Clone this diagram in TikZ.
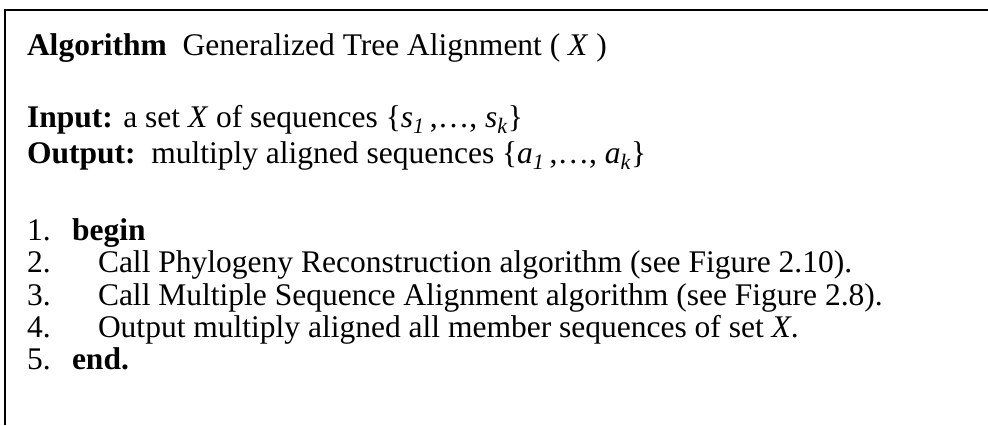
\documentclass[tikz,border=0pt]{standalone}
\usepackage{fontspec}
\setmainfont{Liberation Serif}
\begin{document}
\begin{tikzpicture}[x=1bp,y=-1bp,
  line/.style={anchor=base west,inner sep=0pt,outer sep=0pt,
    font=\fontsize{31.5bp}{36bp}\selectfont},
  frame/.style={line width=2bp,line cap=butt}]
\useasboundingbox (0,0) rectangle (988,425);
% open frame: top and left rules only
\draw[frame] (5,425) -- (5,10) -- (988,10);
% heading and interface
\node[line] (title) at (27,55) {\textbf{Algorithm}\ \ Generalized Tree Alignment ( \textit{X} )};
\node[line] (input) at (27,127) {\textbf{Input:} a set \textit{X} of sequences \{\textit{s}\textsubscript{\textit{1}}\,,\dots, \textit{s}\textsubscript{\textit{k}}\}};
\node[line] (output) at (27,163) {\textbf{Output:}\ \ multiply aligned sequences \{\textit{a}\textsubscript{\textit{1}}\,,\dots, \textit{a}\textsubscript{\textit{k}}\}};
% numbered steps
\node[line] (n1) at (27,240) {1.};
\node[line] (n2) at (27,272) {2.};
\node[line] (n3) at (27,305) {3.};
\node[line] (n4) at (27,337) {4.};
\node[line] (n5) at (27,369) {5.};
\node[line] (s1) at (72,240) {\textbf{begin}};
\node[line] (s2) at (98,272) {Call Phylogeny Reconstruction algorithm (see Figure 2.10).};
\node[line] (s3) at (98,305) {Call Multiple Sequence Alignment algorithm (see Figure 2.8).};
\node[line] (s4) at (98,337) {Output multiply aligned all member sequences of set \textit{X}.};
\node[line] (s5) at (72,369) {\textbf{end.}};
\end{tikzpicture}
\end{document}
